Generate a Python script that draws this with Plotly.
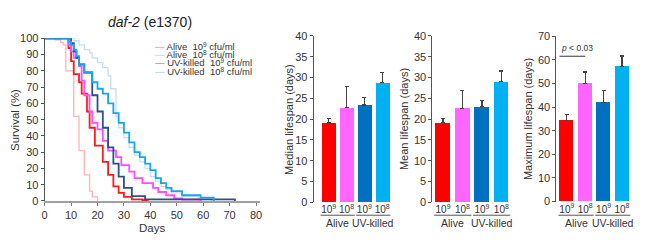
import plotly.graph_objects as go

# ---------------- Survival data (Kaplan-Meier style steps) ----------------
days_alive9 = [0, 9, 10, 11, 13, 14, 16, 17, 19, 22, 24, 26, 28, 30, 33, 37, 39]
surv_alive9 = [100, 94, 86, 78, 73, 66, 55, 45, 34, 24, 16, 9, 5, 2.5, 1, 0.5, 0]

days_alive8 = [0, 9, 10, 11, 13, 14, 15, 17, 18, 20, 22, 24, 27, 29, 32, 34, 37, 41, 43, 46, 49, 52, 59]
surv_alive8 = [100, 96, 92, 88, 83, 74, 65, 55, 48, 44, 37, 31, 27, 22, 18, 14, 11, 8, 5.5, 3.5, 1.5, 0.8, 0]

days_uv9 = [0, 10, 11, 12, 13, 15, 18, 20, 22, 24, 26, 28, 30, 33, 38, 72]
surv_uv9 = [100, 97, 92, 88, 84, 79, 65, 55, 45, 33, 23, 15, 8, 3, 1, 0]

days_uv8 = [0, 9, 10, 11, 12, 13, 15, 18, 20, 22, 24, 26, 28, 30, 32, 34, 36, 38, 40, 42, 44, 46, 48, 52, 59, 64]
surv_uv8 = [100, 98, 96, 93, 89, 84, 79, 73, 69, 66, 60, 54, 48, 42, 36, 30, 27, 23, 19, 14, 11, 8, 6, 3.5, 2, 0]

days_wt_alive = [0, 4, 6, 7, 8, 11, 13, 15, 17, 18, 20]
surv_wt_alive = [100, 99, 97.5, 96, 80, 52, 31, 16, 6, 2.5, 0]

days_wt_uv = [0, 11, 13, 15, 17, 18, 20, 22, 24, 25, 27, 28, 30, 32, 34, 36, 38, 40, 42, 44, 46, 48, 52, 58, 63]
surv_wt_uv = [100, 98.5, 96, 93, 91, 88, 85, 82, 77, 69, 52, 45, 39, 33, 28, 24, 20, 15, 12, 9, 7, 5, 3, 1.5, 0]

SUP = "<span style='font-size:6.5px;baseline-shift:40%'>{}</span>"
legend_labels = ["Alive  10" + SUP.format("9") + " cfu/ml", "Alive  10" + SUP.format("8") + " cfu/ml",
                 "UV-killed  10" + SUP.format("9") + " cfu/ml", "UV-killed  10" + SUP.format("8") + " cfu/ml"]

# ---------------- Bar data ----------------
bar_groups = ["Alive", "Alive", "UV-killed", "UV-killed"]
bar_doses = ["10<sup>9</sup>", "10<sup>8</sup>", "10<sup>9</sup>", "10<sup>8</sup>"]
median_vals = [19.1, 22.8, 23.4, 28.8]
median_err = [1.0, 5.1, 1.8, 2.5]
mean_vals = [19.2, 22.6, 23.0, 29.0]
mean_err = [1.0, 4.2, 1.4, 2.6]
max_vals = [34.3, 50.0, 42.0, 57.3]
max_err = [2.6, 4.8, 5.0, 4.3]
p_text = "<i>p</i> < 0.03"

bar_colors = ["#ff0000", "#ff66ff", "#0070c0", "#00b0f0"]
curve_colors = ["#ff1a1a", "#ff4dff", "#2d4f8a", "#18a6ea"]
pale_colors = ["#ffb3b3", "#c9ddf2"]
legend_colors = ["#ff7070", "#ffa0ff", "#5f78a8", "#80ccf2"]

FONT = "Arial, Liberation Sans, sans-serif"
W, H = 650, 245

def px(x):
    return x / W

def py(y):
    return (H - y) / H

fig = go.Figure()

for d, s, c in [(days_wt_alive, surv_wt_alive, pale_colors[0]), (days_wt_uv, surv_wt_uv, pale_colors[1])]:
    fig.add_trace(go.Scatter(x=d, y=s, mode="lines", line=dict(color=c, width=1.3, shape="hv"),
                             showlegend=False, cliponaxis=False, xaxis="x", yaxis="y"))
for d, s, c in [(days_alive9, surv_alive9, curve_colors[0]), (days_alive8, surv_alive8, curve_colors[1]),
                (days_uv9, surv_uv9, curve_colors[2]), (days_uv8, surv_uv8, curve_colors[3])]:
    fig.add_trace(go.Scatter(x=d, y=s, mode="lines", line=dict(color=c, width=1.8, shape="hv"),
                             showlegend=False, cliponaxis=False, xaxis="x", yaxis="y"))

idx = list(range(len(bar_doses)))
for vals, errs, xa, ya, w in [(median_vals, median_err, "x2", "y2", 0.78),
                               (mean_vals, mean_err, "x3", "y3", 0.76),
                               (max_vals, max_err, "x4", "y4", 0.76)]:
    fig.add_trace(go.Bar(x=idx, y=vals, width=w, marker=dict(color=bar_colors, line=dict(width=0)),
                         error_y=dict(type="data", symmetric=False, array=errs, arrayminus=[0]*len(errs),
                                      color="#444444", thickness=1.2, width=2),
                         showlegend=False, xaxis=xa, yaxis=ya))

ybot, ytop = py(206.5), py(31.5)
tickfont = dict(family=FONT, size=11, color="#333333")
common_y = dict(showgrid=False, zeroline=False, showline=True, linecolor="#555555", linewidth=1,
                ticks="outside", ticklen=3, tickcolor="#555555", tickfont=tickfont)
bar_x = dict(showgrid=False, zeroline=False, showline=False, ticks="", tickvals=idx, ticktext=bar_doses,
             tickfont=dict(family=FONT, size=10, color="#333333"))

fig.update_layout(
    width=W, height=H, margin=dict(l=0, r=0, t=0, b=0),
    paper_bgcolor="white", plot_bgcolor="white", bargap=0,
    xaxis=dict(domain=[px(42), px(259)], range=[0, 81.5], showgrid=False, zeroline=False, showline=True,
               linecolor="#a0a0a0", linewidth=1.5, ticks="outside", ticklen=3, tickcolor="#777777",
               tickvals=list(range(0, 81, 10)), tickfont=tickfont, anchor="y"),
    yaxis=dict(domain=[py(205), py(34)], range=[0, 100], tickvals=list(range(0, 101, 10)), anchor="x", **common_y),
    xaxis2=dict(domain=[px(313), px(392)], range=[-0.85, 3.55], anchor="y2", **bar_x),
    yaxis2=dict(domain=[ybot, ytop], range=[0, 40], tickvals=list(range(0, 41, 5)), anchor="x2", **common_y),
    xaxis3=dict(domain=[px(432.7), px(512)], range=[-0.55, 3.5], anchor="y3", **bar_x),
    yaxis3=dict(domain=[ybot, ytop], range=[0, 40], tickvals=list(range(0, 41, 5)), anchor="x3", **common_y),
    xaxis4=dict(domain=[px(557.7), px(633)], range=[-0.57, 3.5], anchor="y4", **bar_x),
    yaxis4=dict(domain=[py(205.7), py(31.7)], range=[0, 70], tickvals=list(range(0, 71, 10)), anchor="x4", **common_y),
)

ann = []
shapes = []
ann.append(dict(text="<i>daf-2</i> (e1370)", x=px(148), y=py(17), xref="paper", yref="paper",
                showarrow=False, xanchor="center", yanchor="middle", font=dict(family=FONT, size=14, color="#222")))
ann.append(dict(text="Survival (%)", x=px(12), y=py(120), xref="paper", yref="paper", textangle=-90,
                showarrow=False, xanchor="center", yanchor="middle", font=dict(family=FONT, size=11.5, color="#333")))
ann.append(dict(text="Days", x=px(150), y=py(233), xref="paper", yref="paper",
                showarrow=False, xanchor="center", yanchor="middle", font=dict(family=FONT, size=11.5, color="#333")))
for i, (lab, col) in enumerate(zip(legend_labels, legend_colors)):
    yy = [42.5, 51.2, 59.9, 68.6][i]
    ann.append(dict(text=f"<span style='color:{col}'>\u2014</span> {lab}", x=px(151), y=py(yy),
                    xref="paper", yref="paper", showarrow=False, xanchor="left", yanchor="middle",
                    font=dict(family=FONT, size=9.5, color="#333")))
for text, xpos in [("Median lifespan (days)", 288), ("Mean lifespan (days)", 404), ("Maximum lifespan (days)", 529)]:
    ann.append(dict(text=text, x=px(xpos), y=py(119), xref="paper", yref="paper", textangle=-90,
                    showarrow=False, xanchor="center", yanchor="middle", font=dict(family=FONT, size=11, color="#333")))
for xa in ["x2", "x3", "x4"]:
    groups = []
    for i, g in enumerate(bar_groups):
        if not groups or groups[-1][0] != g:
            groups.append([g, i, i])
        else:
            groups[-1][2] = i
    for g, i0, i1 in groups:
        shapes.append(dict(type="line", xref=xa, yref="paper", x0=i0 - 0.46, x1=i1 + 0.46,
                           y0=py(220), y1=py(220), line=dict(color="#555555", width=1)))
        ann.append(dict(text=g, x=(i0 + i1) / 2, y=py(228), xref=xa, yref="paper", showarrow=False,
                        xanchor="center", yanchor="middle", font=dict(family=FONT, size=10.5, color="#333")))
shapes.append(dict(type="line", xref="x4", yref="y4", x0=-0.4, x1=1.0, y0=61.5, y1=61.5,
                   line=dict(color="#333333", width=1)))
ann.append(dict(text=p_text, x=-0.45, y=64.8, xref="x4", yref="y4", showarrow=False, xanchor="left",
                yanchor="middle", font=dict(family=FONT, size=8.5, color="#333")))

fig.update_layout(annotations=ann, shapes=shapes)
fig.write_html("out.html")
